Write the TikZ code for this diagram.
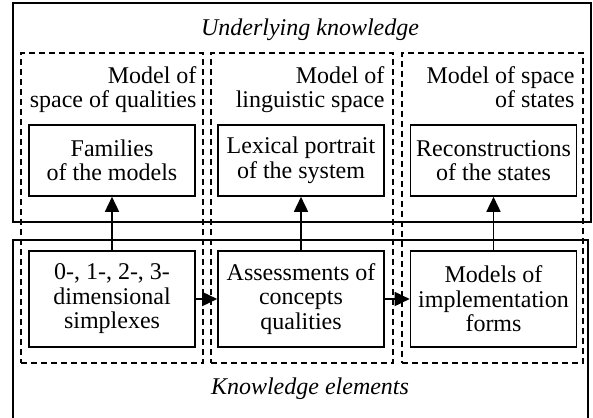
\documentclass[tikz,border=0pt]{standalone}
\usepackage{fontspec}
\setmainfont{Liberation Serif}
\usetikzlibrary{arrows.meta}
\tikzstyle{outer box}=[draw, line width=1.3pt, inner sep=0pt]
\tikzstyle{model box}=[draw, dashed, dash pattern=on 6pt off 4pt, line width=1.3pt,
minimum width=182pt, minimum height=310pt, inner sep=0pt]
\tikzstyle{model label}=[align=right, inner sep=0pt, anchor=north east,
font=\fontsize{24}{24.5}\selectfont]
\tikzstyle{item box}=[draw, line width=1.6pt, align=center, minimum width=166pt,
inner sep=0pt, font=\fontsize{24}{24.5}\selectfont]
\tikzstyle{caption}=[font=\fontsize{24}{24.5}\selectfont\itshape, inner sep=0pt]
\tikzstyle{arrow}=[line width=1.6pt, -{Triangle[length=15pt,width=14pt]}]

\begin{document}
\begin{tikzpicture}[x=1pt,y=-1pt]
\useasboundingbox (0,0) rectangle (593,417);

\node[outer box, minimum width=578pt, minimum height=219pt] (under) at (302,112.5) {};
\node[outer box, minimum width=575pt, minimum height=180pt] (elem) at (300.5,330) {};
\node[caption] (underlabel) at (310,30) {Underlying knowledge};
\node[caption] (elemlabel) at (310,389) {Knowledge elements};

\node[model box] (qual) at (112,208) {};
\node[model box] (ling) at (302,208) {};
\node[model box, minimum width=181pt] (state) at (492.5,208) {};
\node[model label] (quallabel) at ([xshift=-7pt,yshift=-14pt]qual.north east) {Model of\\space of qualities};
\node[model label] (linglabel) at ([xshift=-9pt,yshift=-14pt]ling.north east) {Model of\\linguistic space};
\node[model label] (statelabel) at ([xshift=-9pt,yshift=-14pt]state.north east) {Model of space\\of states};

\node[item box, minimum height=71pt] (fam) at (112,160.5) {Families\\of the models};
\node[item box, minimum height=71pt] (lex) at (301,160.5) {Lexical portrait\\of the system};
\node[item box, minimum height=71pt] (rec) at (493.5,160.5) {Reconstructions\\of the states};

\node[item box, minimum height=96pt] (simp) at (112,299) {0-, 1-, 2-, 3-\\dimensional\\simplexes};
\node[item box, minimum height=96pt] (assess) at (301,299) {Assessments of\\concepts\\qualities};
\node[item box, minimum height=96pt] (impl) at (493.5,299) {Models of\\implementation\\forms};

\draw[arrow] (simp) -- (fam);
\draw[arrow] (assess) -- (lex);
\draw[arrow] (impl) -- (rec);
\draw[arrow] (simp) -- (assess);
\draw[arrow] (assess) -- (impl);
\end{tikzpicture}
\end{document}
